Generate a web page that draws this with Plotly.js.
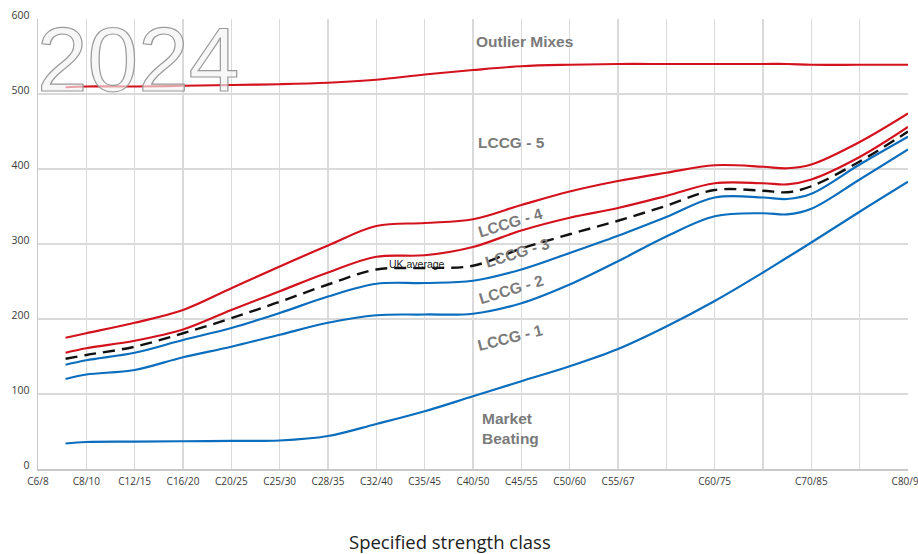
<!DOCTYPE html>
<html>
<head>
<meta charset="utf-8">
<script src="https://cdn.plot.ly/plotly-3.0.1.min.js"></script>
<style>
html,body{margin:0;padding:0;background:#fff;}
#chart{width:918px;height:554px;}
</style>
</head>
<body>
<div id="chart"></div>
<script>
// Category tick labels along the x axis (one per grid column)
const tickLabels = ['C6/8','C8/10','C12/15','C16/20','C20/25','C25/30','C28/35','C32/40','C35/45','C40/50','C45/55','C50/60','C55/67','','C60/75','','C70/85','','C80/95'];
const tickPos = [0,1,2,3,4,5,6,7,8,9,10,11,12,13,14,15,16,17,18];

// Sample positions of the curves (in category-column units)
const xPos = [0.57,1,2,3,4,5,6,7,8,9,10,11,12,13,14,15,15.5,16,17,18];

// Series values
const outlierMixes = [509,510,510,511,512,513,515,519,526,532,537,539,540,540,540,540,540,539,539,539];
const lccg5 = [175,181,195,212,241,270,298,324,328,333,352,370,384,395,405,403,401,406,436,474];
const lccg4 = [155,161,171,186,212,237,262,283,285,296,318,335,348,364,381,381,379.5,386,416,456];
const ukAverage = [147,152,163,181,201,223,246,266,268,271,294,313,331,351,372,371,369,377,410,450];
const lccg3 = [139,145,155,172,188,208,230,247,248,251,266,288,311,336,362,362,360,367,406,443];
const lccg2 = [120,126,132,149,163,179,195,205,206,207,221,246,277,310,337,341,339.5,347,386,426];
const marketBeating = [34,36,36.5,37,37.5,38,44,60,77,97,117,137,160,190,224,262,282,302,343,383];

const RED = '#d3121d';
const BLUE = '#0a6dbd';

function line(y, color, dash, width) {
  return {
    x: xPos, y: y, type: 'scatter', mode: 'lines',
    line: {color: color, width: width || 2.2, shape: 'spline', smoothing: 1, dash: dash || 'solid'},
    hoverinfo: 'skip'
  };
}

const data = [
  line(marketBeating, BLUE),
  line(lccg2, BLUE),
  line(lccg3, BLUE),
  line(ukAverage, '#111111', '12px,7px', 2.4),
  line(lccg4, RED),
  line(lccg5, RED),
  line(outlierMixes, RED)
];

const labelFont = {family: 'Liberation Sans, Arial, sans-serif', size: 15.5, color: '#7a7a7a', weight: 700};

function lab(text, x, y, angle, extra) {
  return Object.assign({
    text: text, x: x, y: y, xref: 'x', yref: 'y', showarrow: false,
    xanchor: 'center', yanchor: 'middle', textangle: angle || 0, font: labelFont
  }, extra || {});
}

const annotations = [
  {text: '2024', xref: 'paper', yref: 'paper', x: -0.004, y: 0.91, xanchor: 'left', yanchor: 'middle',
   showarrow: false, font: {family: 'Liberation Sans, Arial, sans-serif', size: 91, color: 'rgba(242,242,242,0.8)'}},
  lab('Outlier Mixes', 10.07, 570),
  lab('LCCG - 5', 9.79, 435),
  lab('LCCG - 4', 9.78, 329, -17),
  lab('LCCG - 3', 9.93, 289, -17),
  lab('LCCG - 2', 9.78, 239, -17),
  lab('LCCG - 1', 9.78, 175, -14),
  lab('Market<br>Beating', 9.78, 54, 0, {align: 'left'}),
  lab('UK average', 7.84, 274, 0, {font: {family: 'Liberation Sans, Arial, sans-serif', size: 10.5, color: '#222'}}),
  {text: 'Specified strength class', xref: 'paper', yref: 'paper', x: 0.473, y: -0.16, xanchor: 'center', yanchor: 'middle',
   showarrow: false, font: {family: 'Open Sans, sans-serif', size: 18.5, color: '#222'}}
];

const layout = {
  width: 918, height: 554,
  margin: {l: 38, r: 10, t: 19, b: 85},
  paper_bgcolor: '#ffffff', plot_bgcolor: '#ffffff',
  showlegend: false, hovermode: false,
  xaxis: {
    range: [0, 18], tickmode: 'array', tickvals: tickPos, ticktext: tickLabels,
    showgrid: true, gridcolor: '#dadada', gridwidth: 1.3, zeroline: false,
    showline: true, linecolor: '#c9c9c9', linewidth: 1.5,
    ticks: '', ticklabelstandoff: 2, ticklabeloverflow: 'allow',
    tickfont: {family: 'Open Sans, sans-serif', size: 10, color: '#3a3a3a'}
  },
  yaxis: {
    range: [0, 600], tickmode: 'array', tickvals: [0,100,200,300,400,500,600],
    showgrid: true, gridcolor: '#dadada', gridwidth: 1.3, zeroline: false,
    showline: true, linecolor: '#c9c9c9', linewidth: 1.5,
    ticks: '', ticklabelstandoff: 5, ticklabelshift: -4, ticklabeloverflow: 'allow',
    tickfont: {family: 'Open Sans, sans-serif', size: 10.5, color: '#3a3a3a'}
  },
  annotations: annotations
};

function styleYear() {
  document.querySelectorAll('.annotation-text').forEach(function (t) {
    if (t.textContent === '2024') {
      t.style.stroke = '#9a9a9a';
      t.style.strokeWidth = '1.2px';
      t.style.fill = 'rgba(242,242,242,0.8)';
    }
  });
}

Plotly.newPlot('chart', data, layout, {displayModeBar: false, staticPlot: true}).then(styleYear);
styleYear();
</script>
</body>
</html>
